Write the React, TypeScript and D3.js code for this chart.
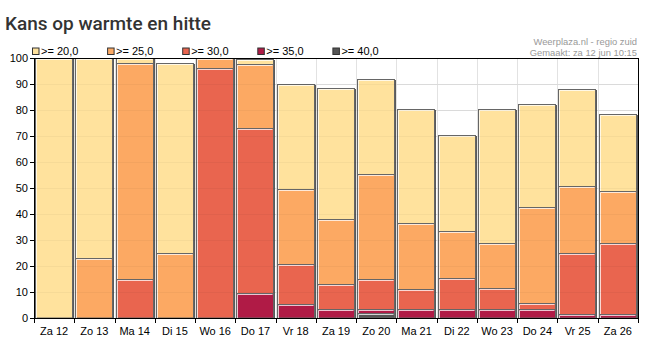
import React from "react";
import * as d3 from "d3";

const categories = ["Za 12", "Zo 13", "Ma 14", "Di 15", "Wo 16", "Do 17", "Vr 18", "Za 19", "Zo 20", "Ma 21", "Di 22", "Wo 23", "Do 24", "Vr 25", "Za 26"];
const p20 = [100, 100, 100, 98, 100, 99.5, 90.1, 88.3, 92, 80.5, 70.5, 80.2, 82.2, 88, 78.3];
const p25 = [0, 23, 98, 25, 100, 97.7, 49.7, 38.2, 55.5, 36.4, 33.4, 29, 42.8, 50.9, 48.7];
const p30 = [0, 0, 15, 0, 96, 73, 20.9, 13.2, 15.1, 11.3, 15.5, 11.7, 5.6, 25.1, 29];
const p35 = [0, 0, 0, 0, 0, 9.5, 5.5, 3.6, 3.6, 3.6, 3.6, 3.6, 3.6, 1.7, 1.7];
const p40 = [0, 0, 0, 0, 0, 0, 0, 0, 1.8, 0, 0, 0, 0, 0, 0];
const seriesLabels = [">= 20,0", ">= 25,0", ">= 30,0", ">= 35,0", ">= 40,0"];
const seriesColors = ["#FFE29D", "#FCA963", "#E9654F", "#B01B46", "#555555"];
const yTicks = [0, 10, 20, 30, 40, 50, 60, 70, 80, 90, 100];

const W = 669, H = 343;
const L = 34, R = 638, T = 58, B = 318;
const FONT = "'Liberation Sans', Arial, sans-serif";

export default function App() {
  const x = d3.scaleBand<string>().domain(categories).range([L, R]).paddingInner(0).paddingOuter(0);
  const y = d3.scaleLinear().domain([0, 100]).range([B, T]);
  const series = [p20, p25, p30, p35, p40];
  const bw = x.bandwidth();

  return (
    <svg width={W} height={H} style={{ position: "absolute", left: 0, top: 0, display: "block" }} xmlns="http://www.w3.org/2000/svg">
      <rect x={0} y={0} width={W} height={H} fill="#fff" />
      <text x={5} y={30} fontFamily="Roboto, sans-serif" fontSize={19} fontWeight={500} fill="#333">Kans op warmte en hitte</text>
      <text x={637} y={45} textAnchor="end" fontFamily={FONT} fontSize={9.4} fill="#999">Weerplaza.nl - regio zuid</text>
      <text x={637} y={56} textAnchor="end" fontFamily={FONT} fontSize={9.4} fill="#999">Gemaakt: za 12 jun 10:15</text>

      {seriesLabels.map((lab, i) => (
        <g key={lab} transform={`translate(${32.5 + i * 75.1},0)`}>
          <rect x={0} y={48} width={6.5} height={6.5} fill={seriesColors[i]} stroke="#333" strokeWidth={1} />
          <text x={8.5} y={55} fontFamily={FONT} fontSize={11} fill="#000">{lab}</text>
        </g>
      ))}

      {/* grid */}
      {yTicks.map((t) => (
        <line key={"h" + t} x1={L} x2={R} y1={Math.round(y(t)) + 0.5} y2={Math.round(y(t)) + 0.5} stroke="#e2e2e2" />
      ))}
      {categories.map((c) => (
        <line key={"v" + c} x1={Math.round(x(c)!) + 0.5} x2={Math.round(x(c)!) + 0.5} y1={T} y2={B} stroke="#e2e2e2" />
      ))}

      {/* bars */}
      {categories.map((c, ci) => {
        const bx = Math.round(x(c)!) + 1.5;
        const w = Math.round(bw) - 3;
        const top = y(p20[ci]);
        return (
          <g key={c}>
            {p20[ci] > 0 && (
              <rect x={bx + 1.5} y={Math.round(top) + 1} width={w} height={B - Math.round(top)} fill="#5a5a5a" />
            )}
            {series.map((s, si) => {
              const v = s[ci];
              if (v <= 0) return null;
              const yt = Math.round(y(v)) + 0.5;
              const h = B - yt;
              return (
                <g key={si}>
                  <rect x={bx} y={yt} width={w} height={h} fill={seriesColors[si]} stroke="#666" strokeWidth={1} />
                  <path d={`M${bx + 1},${B} V${yt + 1} H${bx + w - 1}`} fill="none" stroke="#fff" strokeOpacity={0.75} strokeWidth={1} />
                </g>
              );
            })}
          </g>
        );
      })}

      {/* faint grid over bars */}
      {yTicks.map((t) => (
        <line key={"g" + t} x1={L} x2={R} y1={Math.round(y(t)) + 0.5} y2={Math.round(y(t)) + 0.5} stroke="#000" strokeOpacity={0.035} />
      ))}

      {/* frame */}
      <line x1={L + 0.5} x2={L + 0.5} y1={T} y2={B + 1} stroke="#000" />
      <line x1={L} x2={R + 1} y1={B + 0.5} y2={B + 0.5} stroke="#000" />
      <line x1={L} x2={R + 1} y1={T + 0.5} y2={T + 0.5} stroke="#000" />
      <line x1={R + 0.5} x2={R + 0.5} y1={T} y2={B + 1} stroke="#000" />

      {/* y axis */}
      {yTicks.map((t) => (
        <g key={"y" + t}>
          <line x1={30} x2={L} y1={Math.round(y(t)) + 0.5} y2={Math.round(y(t)) + 0.5} stroke="#000" />
          <text x={28} y={y(t) + 4} textAnchor="end" fontFamily={FONT} fontSize={11} fill="#000">{t}</text>
        </g>
      ))}

      {/* x axis */}
      {[...categories.map((c) => x(c)!), R].map((px, i) => (
        <line key={"xt" + i} x1={Math.round(px) + 0.5} x2={Math.round(px) + 0.5} y1={B} y2={B + 5} stroke="#000" />
      ))}
      {categories.map((c) => (
        <text key={"xl" + c} x={x(c)! + bw / 2} y={335} textAnchor="middle" fontFamily={FONT} fontSize={11} fill="#000">{c}</text>
      ))}
    </svg>
  );
}
